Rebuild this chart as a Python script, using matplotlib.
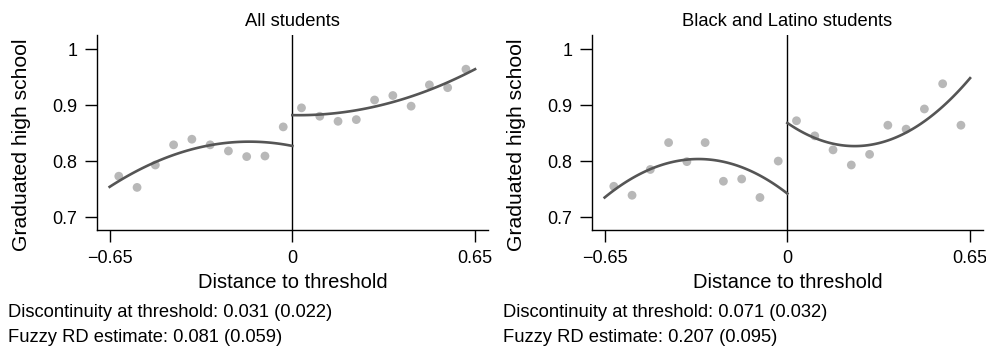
import numpy as np
import matplotlib
matplotlib.use("Agg")
import matplotlib.pyplot as plt

plt.rcParams['font.family'] = ['Liberation Sans', 'DejaVu Sans']

### data
bins_left = [-0.6175, -0.5525, -0.4875, -0.4225, -0.3575, -0.2925, -0.2275, -0.1625, -0.0975, -0.0325]
bins_right = [0.0325, 0.0975, 0.1625, 0.2275, 0.2925, 0.3575, 0.4225, 0.4875, 0.5525, 0.6175]

all_left_y = [0.773, 0.753, 0.793, 0.829, 0.839, 0.829, 0.818, 0.808, 0.809, 0.861]
all_right_y = [0.895, 0.880, 0.871, 0.874, 0.909, 0.917, 0.898, 0.936, 0.931, 0.964]
bl_left_y = [0.755, 0.739, 0.785, 0.833, 0.799, 0.833, 0.764, 0.768, 0.735, 0.800]
bl_right_y = [0.872, 0.845, 0.820, 0.793, 0.812, 0.864, 0.857, 0.893, 0.938, 0.864]

# fitted quadratic, read at three x values on each side
fit_x_left = [-0.65, -0.325, 0.0]
fit_x_right = [0.0, 0.325, 0.65]
all_fit_left = [0.754, 0.825, 0.827]
all_fit_right = [0.882, 0.901, 0.964]
bl_fit_left = [0.735, 0.8036, 0.742]
bl_fit_right = [0.868, 0.832, 0.948]

titles = ["All students", "Black and Latino students"]
x_ticks = [-0.65, 0, 0.65]
x_ticklabels = ["\u22120.65", "0", "0.65"]
y_ticks = [0.7, 0.8, 0.9, 1.0]
y_ticklabels = ["0.7", "0.8", "0.9", "1"]
notes = [
    ["Discontinuity at threshold: 0.031 (0.022)", "Fuzzy RD estimate: 0.081 (0.059)"],
    ["Discontinuity at threshold: 0.071 (0.032)", "Fuzzy RD estimate: 0.207 (0.095)"],
]

panels = [
    (all_left_y, all_right_y, all_fit_left, all_fit_right),
    (bl_left_y, bl_right_y, bl_fit_left, bl_fit_right),
]

W, H = 987, 348
fig = plt.figure(figsize=(W / 100, H / 100), dpi=100)

dot_color = "#b8b8b8"
line_color = "#555555"

lefts = [97, 592]
for i, (yl, yr, fl, fr) in enumerate(panels):
    ax = fig.add_axes([lefts[i] / W, (H - 230) / H, 391 / W, 195 / H])
    ax.scatter(bins_left, yl, s=40, color=dot_color, edgecolors="none", zorder=2)
    ax.scatter(bins_right, yr, s=40, color=dot_color, edgecolors="none", zorder=2)

    # curve through the three read values on each side
    for fx, fy in [(fit_x_left, fl), (fit_x_right, fr)]:
        c = np.polyfit(fx, fy, 2)
        xs = np.linspace(fx[0], fx[-1], 100)
        ax.plot(xs, np.polyval(c, xs), color=line_color, lw=1.9, zorder=3)

    ax.axvline(0, color="black", lw=1.0, zorder=1)
    ax.set_xlim(-0.695, 0.696)
    ax.set_ylim(0.677, 1.025)
    ax.spines["top"].set_visible(False)
    ax.spines["right"].set_visible(False)
    for s in ["left", "bottom"]:
        ax.spines[s].set_linewidth(1.0)
    ax.set_xticks(x_ticks)
    ax.set_xticklabels(x_ticklabels)
    ax.set_yticks(y_ticks)
    ax.set_yticklabels(y_ticklabels)
    ax.tick_params(direction="out", length=8.6, width=1.0, labelsize=13, pad=5.5)

    ax.set_xlabel("Distance to threshold", fontsize=14.5)
    ax.xaxis.label.set_va("baseline")
    ax.xaxis.set_label_coords(0.5, (230 - 288.5) / 195)
    ax.set_ylabel("Graduated high school", fontsize=15.2)
    ax.yaxis.label.set_va("center")
    ax.yaxis.set_label_coords(-75 / 391, (230 - 145) / 195)
    ax.set_title(titles[i], fontsize=13.2, pad=6.5)

    # notes under each panel
    x0 = [8, 503][i] / W
    fig.text(x0, (H - 316.7) / H, notes[i][0], fontsize=13.2, va="baseline", ha="left")
    fig.text(x0, (H - 342) / H, notes[i][1], fontsize=13.2, va="baseline", ha="left")

fig.savefig("out.png", dpi=100)
